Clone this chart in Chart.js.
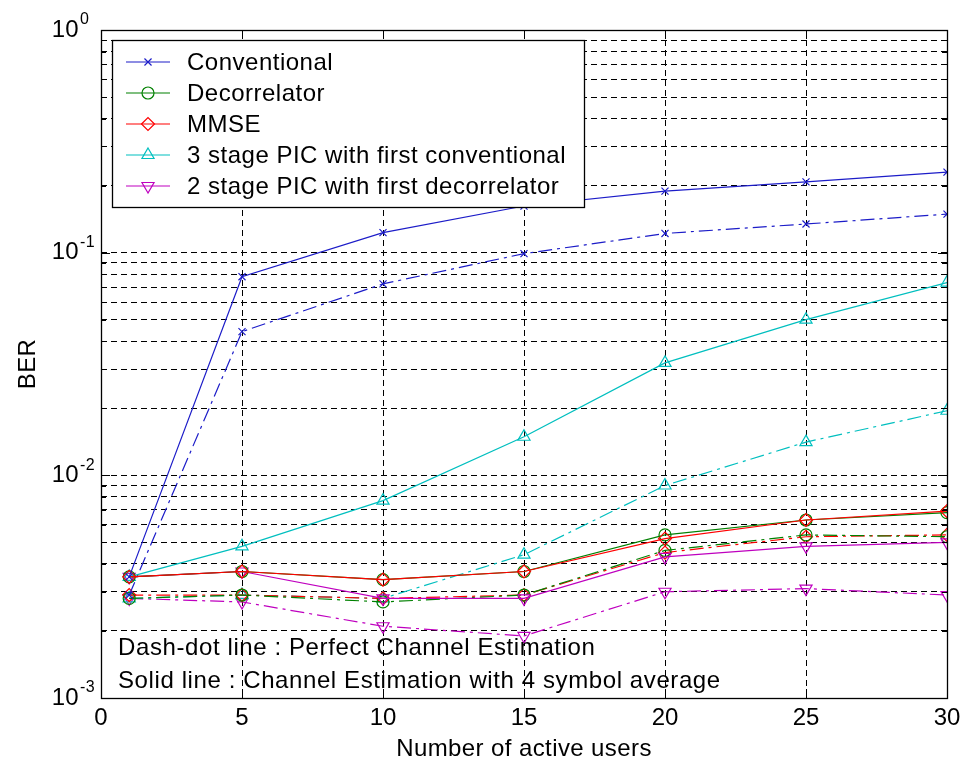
<!DOCTYPE html>
<html>
<head>
<meta charset="utf-8">
<script src="https://cdn.jsdelivr.net/npm/chart.js@4.4.1/dist/chart.umd.min.js"></script>
<style>
  html, body { margin: 0; padding: 0; background: #ffffff; }
  #wrap { width: 962px; height: 769px; }
</style>
</head>
<body>
<div id="wrap"><canvas id="ber" width="962" height="769"></canvas></div>
<script>
// Number of active users at which BER was simulated
const users = [1, 5, 10, 15, 20, 25, 30];
const xTicks = [0, 5, 10, 15, 20, 25, 30];
const yDecades = [0.001, 0.01, 0.1, 1];
const yExponents = ['-3', '-2', '-1', '0'];
const mantissas = [1, 2, 3, 4, 5, 6, 7, 8, 9];

const seriesNames = [
  'Conventional',
  'Decorrelator',
  'MMSE',
  '3 stage PIC with first conventional',
  '2 stage PIC with first decorrelator'
];
const notes = [
  'Dash-dot line : Perfect Channel Estimation',
  'Solid line : Channel Estimation with 4 symbol average'
];

// Channel estimation with 4 symbol average (solid lines)
const convEst  = [0.0035, 0.078, 0.123, 0.162, 0.189, 0.208, 0.230];
const decorEst = [0.0035, 0.0037, 0.0034, 0.0037, 0.0054, 0.0063, 0.0068];
const mmseEst  = [0.0035, 0.0037, 0.0034, 0.0037, 0.0052, 0.0063, 0.0069];
const pic3Est  = [0.0035, 0.0048, 0.0077, 0.0149, 0.0320, 0.0500, 0.0734];
const pic2Est  = [0.0035, 0.0037, 0.0028, 0.0028, 0.0043, 0.0048, 0.0050];

// Perfect channel estimation (dash-dot lines)
const convPerf  = [0.0029, 0.0442, 0.0724, 0.099, 0.122, 0.1345, 0.149];
const decorPerf = [0.0028, 0.0029, 0.0027, 0.0029, 0.0046, 0.0054, 0.0053];
const mmsePerf  = [0.0029, 0.0029, 0.0028, 0.0029, 0.0045, 0.0053, 0.0054];
const pic3Perf  = [0.0028, 0.0029, 0.0028, 0.0044, 0.0090, 0.0141, 0.0195];
const pic2Perf  = [0.0028, 0.0027, 0.0021, 0.0019, 0.0030, 0.0031, 0.0029];

const colors  = ['#1c1cc8', '#008000', '#ff0000', '#00bfbf', '#bf00bf'];
const markers = [
  { pointStyle: 'crossRot', rotation: 0,   radius: 5 },
  { pointStyle: 'circle',   rotation: 0,   radius: 6 },
  { pointStyle: 'rectRot',  rotation: 0,   radius: 6.5 },
  { pointStyle: 'triangle', rotation: 0,   radius: 7 },
  { pointStyle: 'triangle', rotation: 180, radius: 7 }
];
const dashDot = [14, 5, 3, 5];

const estSeries  = [convEst, decorEst, mmseEst, pic3Est, pic2Est];
const perfSeries = [convPerf, decorPerf, mmsePerf, pic3Perf, pic2Perf];

const yGrid = [];
yDecades.forEach((d, i) => {
  if (i === yDecades.length - 1) { yGrid.push(d); return; }
  mantissas.forEach(m => yGrid.push(m * d));
});

function toPoints(vals) {
  return users.map((u, i) => ({ x: u, y: vals[i] }));
}

function makeDataset(vals, idx, dashed) {
  const mk = markers[idx];
  return {
    label: seriesNames[idx] + (dashed ? ' (perfect)' : ''),
    data: toPoints(vals),
    borderColor: colors[idx],
    backgroundColor: 'rgba(0,0,0,0)',
    borderWidth: 1.2,
    borderDash: dashed ? dashDot : [],
    pointStyle: mk.pointStyle,
    pointRotation: mk.rotation,
    pointRadius: mk.radius,
    pointBorderWidth: 1.2,
    pointBorderColor: colors[idx],
    pointBackgroundColor: 'rgba(0,0,0,0)',
    tension: 0,
    fill: false
  };
}

const datasets = [];
// draw order: earlier datasets are painted on top
for (let i = 0; i < 5; i++) datasets.push(makeDataset(estSeries[i], i, false));
for (let i = 0; i < 5; i++) datasets.push(makeDataset(perfSeries[i], i, true));
// decorrelator solid sits underneath MMSE solid
[datasets[1], datasets[2]] = [datasets[2], datasets[1]];

const FONT = "'Liberation Sans', Arial, sans-serif";

function setFont(ctx, size, spacing) {
  ctx.font = size + 'px ' + FONT;
  if ('letterSpacing' in ctx) ctx.letterSpacing = spacing + 'px';
}

function marker(ctx, idx, x, y) {
  const mk = markers[idx];
  ctx.save();
  ctx.strokeStyle = colors[idx];
  ctx.fillStyle = 'rgba(0,0,0,0)';
  ctx.lineWidth = 1.2;
  ctx.setLineDash([]);
  Chart.helpers.drawPoint(ctx, {
    pointStyle: mk.pointStyle, rotation: mk.rotation, radius: mk.radius, borderWidth: 1.2
  }, x, y);
  ctx.restore();
}

const decorations = {
  id: 'decorations',
  afterDatasetsDraw(chart) {
    const { ctx, chartArea: a, scales } = chart;
    const xs = scales.x, ys = scales.y;
    ctx.save();

    // explanatory notes inside the axes
    ctx.fillStyle = '#000';
    setFont(ctx, 24, 0.6);
    ctx.textAlign = 'left';
    ctx.textBaseline = 'middle';
    notes.forEach((t, i) => ctx.fillText(t, a.left + 17, a.bottom - 50 + i * 33));

    // legend box
    const lx = 112.5, ly = 40.5, lw = 472, lh = 167;
    ctx.fillStyle = '#fff';
    ctx.fillRect(lx, ly, lw, lh);
    ctx.strokeStyle = '#000';
    ctx.lineWidth = 1.3;
    ctx.setLineDash([]);
    ctx.strokeRect(lx, ly, lw, lh);
    seriesNames.forEach((name, i) => {
      const ry = ly + 21.5 + i * 31;
      ctx.strokeStyle = colors[i];
      ctx.lineWidth = 1.2;
      ctx.beginPath();
      ctx.moveTo(126, ry);
      ctx.lineTo(170, ry);
      ctx.stroke();
      marker(ctx, i, 148, ry);
      ctx.fillStyle = '#000';
      setFont(ctx, 24, 0.5);
      ctx.textAlign = 'left';
      ctx.textBaseline = 'middle';
      ctx.fillText(name, 187, ry + 1);
    });

    // axes box
    ctx.strokeStyle = '#000';
    ctx.lineWidth = 1.3;
    ctx.strokeRect(Math.round(a.left) + 0.5, Math.round(a.top) + 0.5,
                   Math.round(a.width), Math.round(a.height));

    // inward tick marks
    ctx.lineWidth = 1;
    ctx.beginPath();
    xTicks.forEach(v => {
      const px = Math.round(xs.getPixelForValue(v)) + 0.5;
      ctx.moveTo(px, a.bottom); ctx.lineTo(px, a.bottom - 9);
      ctx.moveTo(px, a.top); ctx.lineTo(px, a.top + 9);
    });
    yGrid.forEach(v => {
      const py = Math.round(ys.getPixelForValue(v)) + 0.5;
      const major = yDecades.includes(v);
      const len = major ? 9 : 5;
      ctx.moveTo(a.left, py); ctx.lineTo(a.left + len, py);
      ctx.moveTo(a.right, py); ctx.lineTo(a.right - len, py);
    });
    ctx.stroke();

    // x tick labels
    ctx.fillStyle = '#000';
    setFont(ctx, 24, 0);
    ctx.textAlign = 'center';
    ctx.textBaseline = 'middle';
    xTicks.forEach(v => ctx.fillText(String(v), xs.getPixelForValue(v), a.bottom + 20));

    // y tick labels: 10 with superscript exponent
    yDecades.forEach((v, i) => {
      const py = ys.getPixelForValue(v);
      setFont(ctx, 24, 0.3);
      ctx.textAlign = 'right';
      ctx.textBaseline = 'middle';
      ctx.fillText('10', 79, py);
      setFont(ctx, 16, 0.3);
      ctx.textAlign = 'left';
      ctx.fillText(yExponents[i], 80, py - 10);
    });

    // axis titles
    setFont(ctx, 24, 0.4);
    ctx.textAlign = 'center';
    ctx.textBaseline = 'middle';
    ctx.fillText('Number of active users', (a.left + a.right) / 2, a.bottom + 51);
    ctx.save();
    ctx.translate(28, (a.top + a.bottom) / 2);
    ctx.rotate(-Math.PI / 2);
    ctx.fillText('BER', 0, 0);
    ctx.restore();

    ctx.restore();
  }
};

new Chart(document.getElementById('ber'), {
  type: 'line',
  data: { datasets },
  options: {
    responsive: false,
    animation: false,
    devicePixelRatio: 1,
    layout: { padding: { left: 101, top: 30, right: 15, bottom: 71 } },
    plugins: { legend: { display: false }, tooltip: { enabled: false } },
    scales: {
      x: {
        type: 'linear', min: 0, max: 30,
        ticks: { display: false, stepSize: 5 },
        afterBuildTicks: s => { s.ticks = xTicks.map(v => ({ value: v })); },
        grid: { color: '#000', lineWidth: 1, drawTicks: false },
        border: { display: false, dash: [6, 4] }
      },
      y: {
        type: 'logarithmic', min: 0.001, max: 1,
        ticks: { display: false },
        afterBuildTicks: s => { s.ticks = yGrid.map(v => ({ value: v })); },
        grid: { color: '#000', lineWidth: 1, drawTicks: false },
        border: { display: false, dash: [6, 4] }
      }
    }
  },
  plugins: [decorations]
});
</script>
</body>
</html>
